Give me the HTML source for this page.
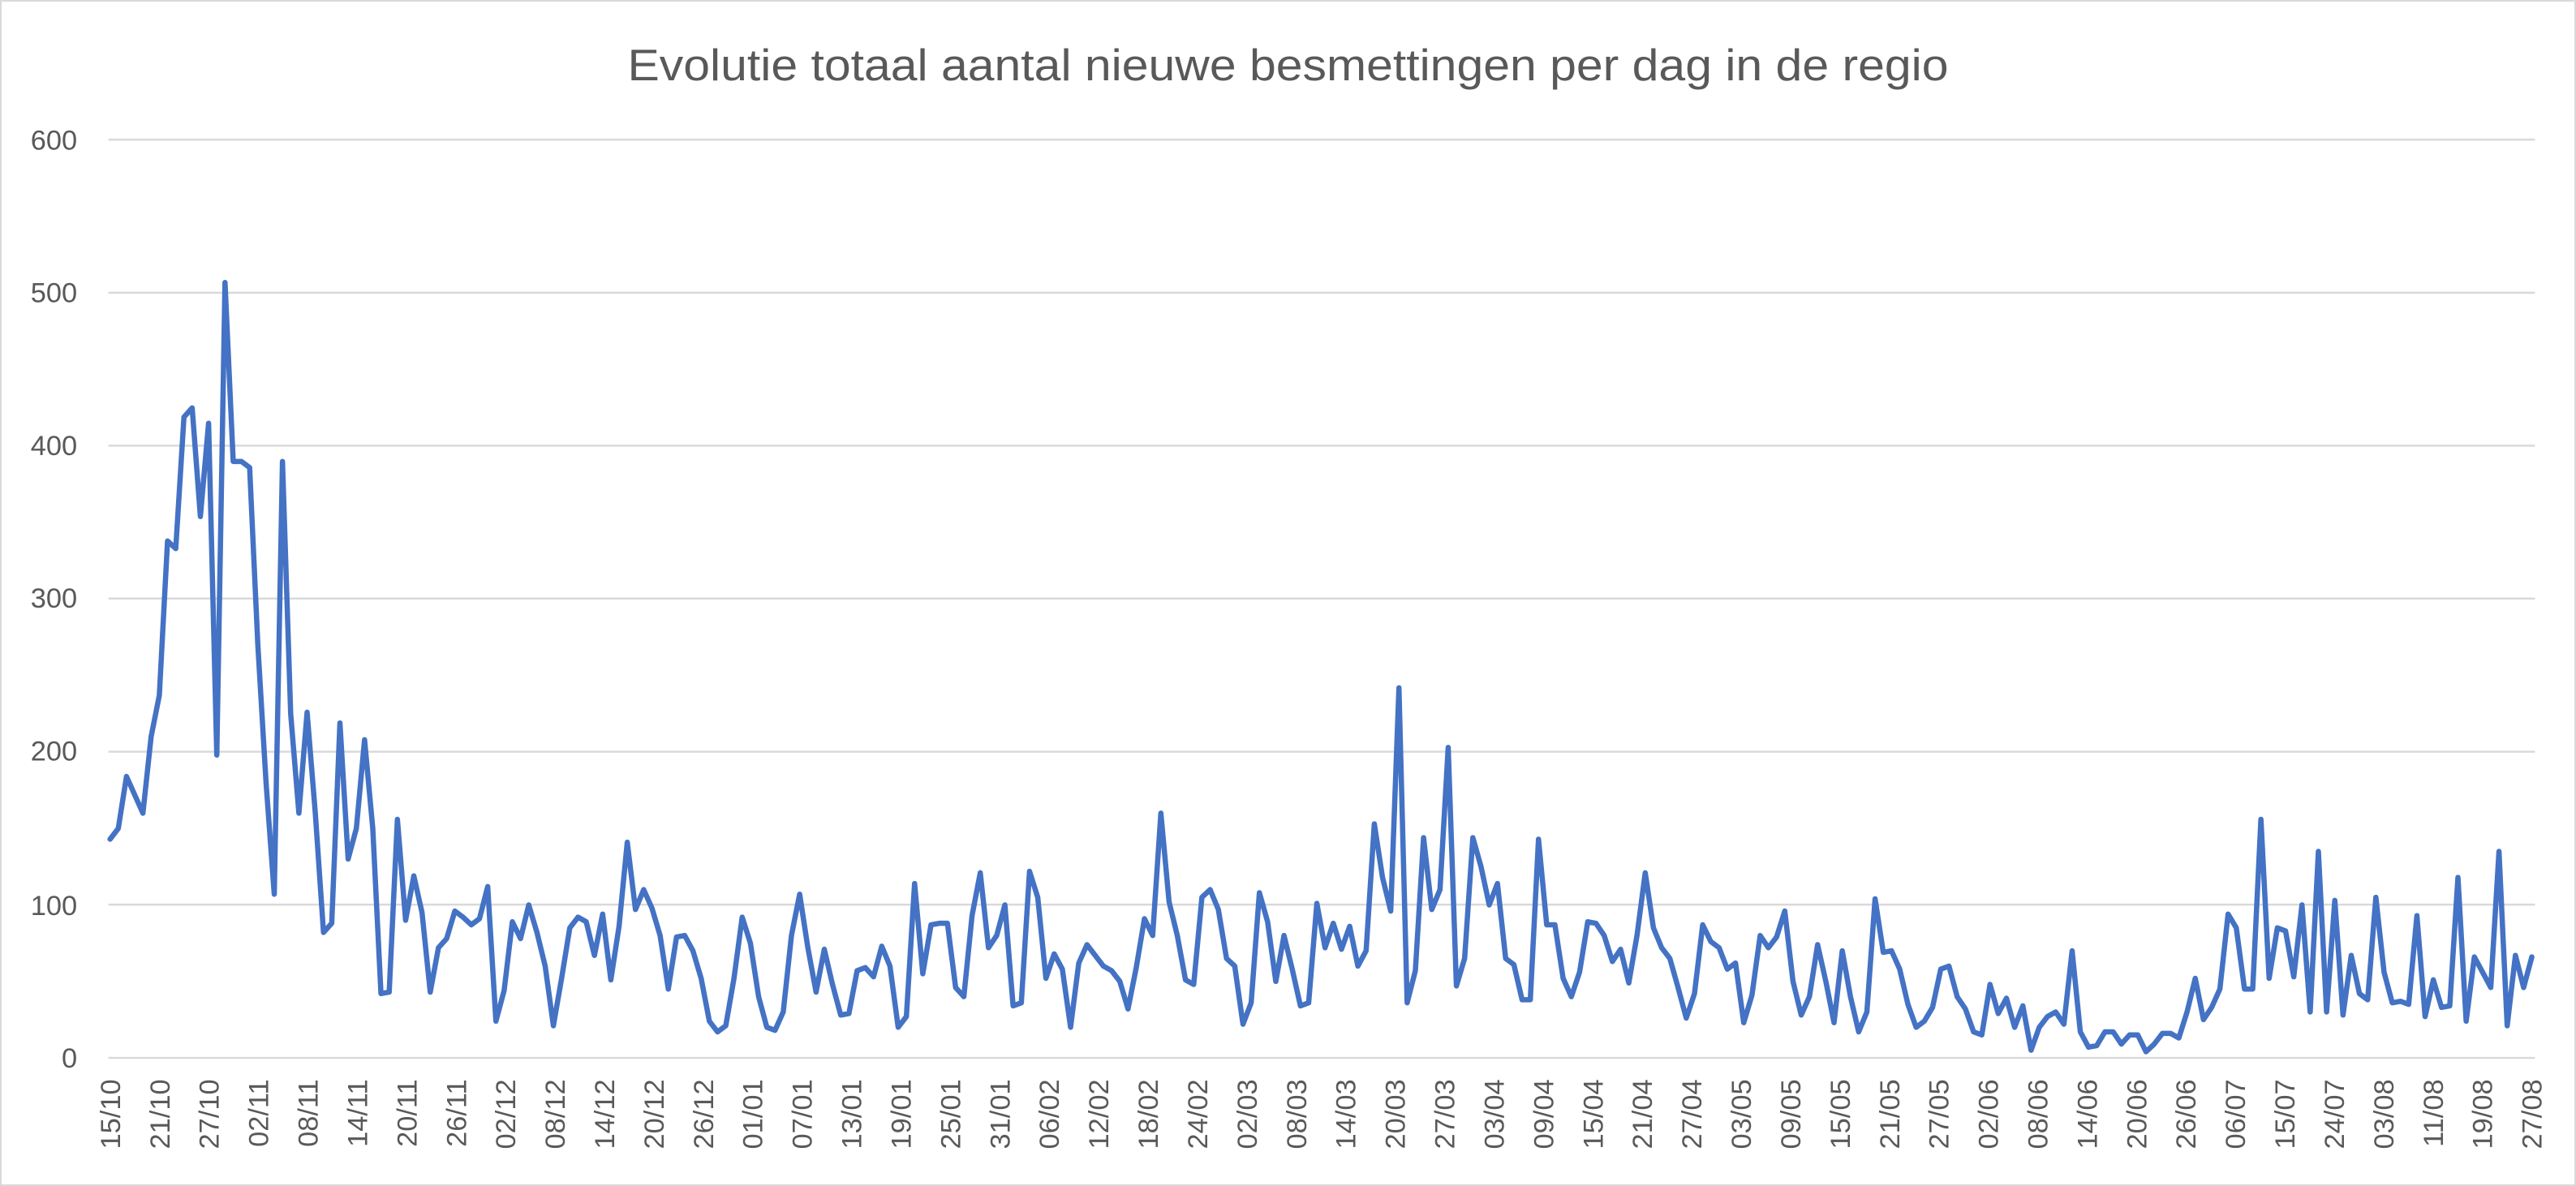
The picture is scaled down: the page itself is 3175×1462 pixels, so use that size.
<!DOCTYPE html>
<html><head><meta charset="utf-8"><style>html,body{margin:0;padding:0;background:#fff;}svg{display:block;}</style></head>
<body>
<svg width="3175" height="1462" viewBox="0 0 1568 722" xmlns="http://www.w3.org/2000/svg" font-family="'Liberation Sans', sans-serif">
<rect x="0.5" y="0.5" width="1567" height="721" fill="#fff" stroke="#d9d9d9" stroke-width="1"/>
<text x="784" y="49" text-anchor="middle" font-size="27" fill="#595959" textLength="804" lengthAdjust="spacingAndGlyphs">Evolutie totaal aantal nieuwe besmettingen per dag in de regio</text>
<g stroke="#d9d9d9" stroke-width="1.2">
<line x1="66" x2="1543" y1="85" y2="85"/>
<line x1="66" x2="1543" y1="178.2" y2="178.2"/>
<line x1="66" x2="1543" y1="271.3" y2="271.3"/>
<line x1="66" x2="1543" y1="364.4" y2="364.4"/>
<line x1="66" x2="1543" y1="457.6" y2="457.6"/>
<line x1="66" x2="1543" y1="550.7" y2="550.7"/>
<line x1="66" x2="1543" y1="644" y2="644"/>
</g>
<g font-size="17" fill="#595959" text-anchor="end">
<text x="47" y="91">600</text>
<text x="47" y="184">500</text>
<text x="47" y="277">400</text>
<text x="47" y="370">300</text>
<text x="47" y="463">200</text>
<text x="47" y="557">100</text>
<text x="47" y="650">0</text>
</g>
<g transform="translate(67,644) scale(4.997,-0.931)">
<polyline vector-effect="non-scaling-stroke" fill="none" stroke="#4472C4" stroke-width="6.5" stroke-linejoin="round" stroke-linecap="round" points="0,143 1,150 2,184 3,172 4,160 5,210 6,237 7,338 8,333 9,419 10,425 11,354 12,415 13,198 14,507 15,390 16,390 17,386 18,270 19,180 20,107 21,390 22,225 23,160 24,226 25,160 26,82 27,88 28,219 29,130 30,150 31,208 32,150 33,42 34,43 35,156 36,90 37,119 38,95 39,43 40,72 41,78 42,96 43,92 44,87 45,91 46,112 47,24 48,44 49,89 50,78 51,100 52,82 53,60 54,21 55,52 56,85 57,92 58,89 59,67 60,94 61,51 62,86 63,141 64,97 65,110 66,98 67,80 68,45 69,79 70,80 71,70 72,52 73,24 74,17 75,21 76,52 77,92 78,75 79,40 80,20 81,18 82,30 83,80 84,107 85,72 86,43 87,71 88,48 89,28 90,29 91,57 92,59 93,53 94,73 95,60 96,20 97,27 98,114 99,55 100,87 101,88 102,88 103,46 104,40 105,93 106,121 107,72 108,80 109,100 110,34 111,36 112,122 113,105 114,52 115,68 116,58 117,20 118,62 119,74 120,67 121,60 122,57 123,50 124,32 125,59 126,91 127,80 128,160 129,102 130,80 131,51 132,48 133,105 134,110 135,97 136,65 137,60 138,22 139,36 140,108 141,89 142,50 143,80 144,58 145,34 146,36 147,101 148,72 149,88 150,71 151,86 152,60 153,70 154,153 155,118 156,96 157,242 158,36 159,57 160,144 161,97 162,110 163,203 164,47 165,65 166,144 167,125 168,100 169,114 170,65 171,61 172,38 173,38 174,143 175,87 176,87 177,52 178,40 179,56 180,89 181,88 182,80 183,63 184,71 185,49 186,80 187,121 188,85 189,72 190,65 191,46 192,26 193,42 194,87 195,76 196,72 197,58 198,62 199,23 200,41 201,80 202,72 203,79 204,96 205,50 206,28 207,40 208,74 209,50 210,23 211,70 212,40 213,17 214,30 215,104 216,69 217,70 218,58 219,35 220,20 221,24 222,33 223,58 224,60 225,40 226,32 227,17 228,15 229,48 230,29 231,39 232,20 233,34 234,5 235,20 236,27 237,30 238,22 239,70 240,17 241,7 242,8 243,17 244,17 245,9 246,15 247,15 248,4 249,9 250,16 251,16 252,13 253,30 254,52 255,25 256,33 257,45 258,94 259,85 260,45 261,45 262,156 263,52 264,85 265,83 266,53 267,100 268,30 269,135 270,30 271,103 272,28 273,67 274,42 275,38 276,105 277,56 278,36 279,37 280,35 281,93 282,27 283,51 284,33 285,34 286,118 287,24 288,66 289,56 290,46 291,135 292,21 293,67 294,46 295,66"/>
</g>
<g font-size="17" fill="#595959" text-anchor="end">
<text transform="translate(73,657) rotate(-90)">15/10</text>
<text transform="translate(103.1,657) rotate(-90)">21/10</text>
<text transform="translate(133.2,657) rotate(-90)">27/10</text>
<text transform="translate(163.2,657) rotate(-90)">02/11</text>
<text transform="translate(193.3,657) rotate(-90)">08/11</text>
<text transform="translate(223.4,657) rotate(-90)">14/11</text>
<text transform="translate(253.5,657) rotate(-90)">20/11</text>
<text transform="translate(283.6,657) rotate(-90)">26/11</text>
<text transform="translate(313.7,657) rotate(-90)">02/12</text>
<text transform="translate(343.7,657) rotate(-90)">08/12</text>
<text transform="translate(373.8,657) rotate(-90)">14/12</text>
<text transform="translate(403.9,657) rotate(-90)">20/12</text>
<text transform="translate(434,657) rotate(-90)">26/12</text>
<text transform="translate(464.1,657) rotate(-90)">01/01</text>
<text transform="translate(494.2,657) rotate(-90)">07/01</text>
<text transform="translate(524.2,657) rotate(-90)">13/01</text>
<text transform="translate(554.3,657) rotate(-90)">19/01</text>
<text transform="translate(584.4,657) rotate(-90)">25/01</text>
<text transform="translate(614.5,657) rotate(-90)">31/01</text>
<text transform="translate(644.6,657) rotate(-90)">06/02</text>
<text transform="translate(674.7,657) rotate(-90)">12/02</text>
<text transform="translate(704.7,657) rotate(-90)">18/02</text>
<text transform="translate(734.8,657) rotate(-90)">24/02</text>
<text transform="translate(764.9,657) rotate(-90)">02/03</text>
<text transform="translate(795,657) rotate(-90)">08/03</text>
<text transform="translate(825.1,657) rotate(-90)">14/03</text>
<text transform="translate(855.2,657) rotate(-90)">20/03</text>
<text transform="translate(885.2,657) rotate(-90)">27/03</text>
<text transform="translate(915.3,657) rotate(-90)">03/04</text>
<text transform="translate(945.4,657) rotate(-90)">09/04</text>
<text transform="translate(975.5,657) rotate(-90)">15/04</text>
<text transform="translate(1005.6,657) rotate(-90)">21/04</text>
<text transform="translate(1035.7,657) rotate(-90)">27/04</text>
<text transform="translate(1065.7,657) rotate(-90)">03/05</text>
<text transform="translate(1095.8,657) rotate(-90)">09/05</text>
<text transform="translate(1125.9,657) rotate(-90)">15/05</text>
<text transform="translate(1156,657) rotate(-90)">21/05</text>
<text transform="translate(1186.1,657) rotate(-90)">27/05</text>
<text transform="translate(1216.2,657) rotate(-90)">02/06</text>
<text transform="translate(1246.2,657) rotate(-90)">08/06</text>
<text transform="translate(1276.3,657) rotate(-90)">14/06</text>
<text transform="translate(1306.4,657) rotate(-90)">20/06</text>
<text transform="translate(1336.5,657) rotate(-90)">26/06</text>
<text transform="translate(1366.6,657) rotate(-90)">06/07</text>
<text transform="translate(1396.7,657) rotate(-90)">15/07</text>
<text transform="translate(1426.7,657) rotate(-90)">24/07</text>
<text transform="translate(1456.8,657) rotate(-90)">03/08</text>
<text transform="translate(1486.9,657) rotate(-90)">11/08</text>
<text transform="translate(1517,657) rotate(-90)">19/08</text>
<text transform="translate(1547,657) rotate(-90)">27/08</text>
</g>
</svg>
</body></html>
